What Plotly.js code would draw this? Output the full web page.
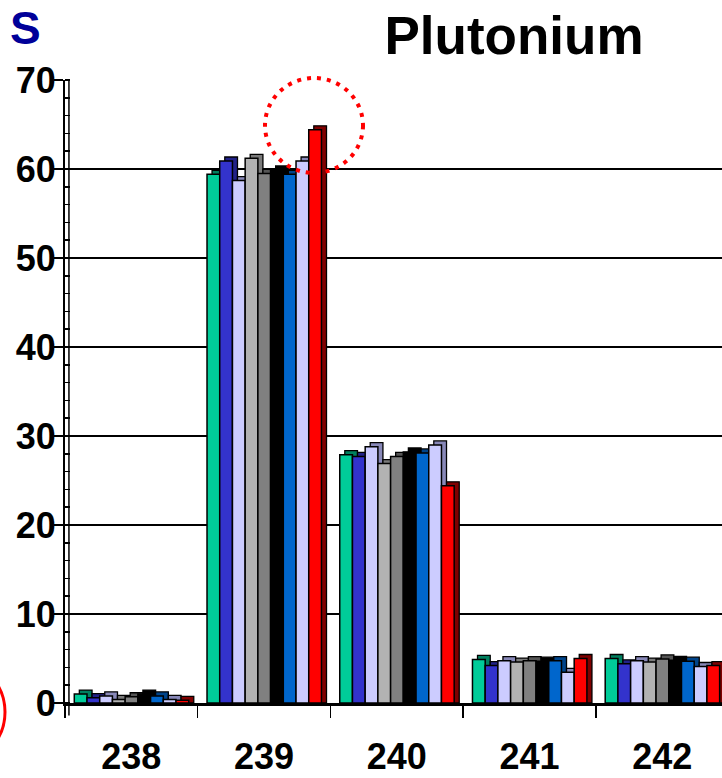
<!DOCTYPE html>
<html>
<head>
<meta charset="utf-8">
<script src="https://cdn.plot.ly/plotly-3.0.1.min.js"></script>
<style>html,body{margin:0;padding:0;background:#fff;}#chart{width:722px;height:778px;}</style>
</head>
<body>
<div id="chart"></div>
<script>
// Isotope categories
const categories = ['238', '239', '240', '241', '242'];

// Series values (percent)
const series1 = [1.0, 59.4, 27.9, 4.9, 5.0];   // green
const series2 = [0.6, 60.9, 27.7, 4.2, 4.4];   // blue
const series3 = [0.8, 58.7, 28.8, 4.75, 4.75]; // lavender
const series4 = [0.4, 61.2, 26.9, 4.6, 4.6];   // light gray
const series5 = [0.7, 59.5, 27.7, 4.75, 4.95]; // gray
const series6 = [1.0, 59.9, 28.2, 4.7, 4.8];   // black
const series7 = [0.8, 59.4, 28.1, 4.75, 4.7];  // mid blue
const series8 = [0.4, 60.9, 29.0, 3.45, 4.1];  // lavender
const series9 = [0.3, 64.4, 24.4, 5.0, 4.2];   // red

const seriesList = [series1, series2, series3, series4, series5, series6, series7, series8, series9];
const frontColors = ['#00CC99', '#3333CC', '#CCCCFF', '#B2B2B2', '#808080', '#000000', '#0066CC', '#CCCCFF', '#FF0000'];
const sideColors  = ['#00805F', '#222288', '#8888B8', '#7A7A7A', '#555555', '#000000', '#00448A', '#8888B8', '#800000'];

const BAR_W = 0.0958;
const GROUP_START = -0.43;
const DEPTH_X = 0.038;
const DEPTH_Y = 0.45;

const traces = [];
seriesList.forEach((vals, i) => {
  const off = GROUP_START + i * BAR_W;
  traces.push({
    type: 'bar', x: categories, y: vals.map(v => v + DEPTH_Y),
    offset: off + DEPTH_X, width: BAR_W,
    marker: {color: sideColors[i], line: {color: '#000', width: 1.3}},
    hoverinfo: 'skip', showlegend: false
  });
  traces.push({
    type: 'bar', x: categories, y: vals, name: 'Série ' + (i + 1),
    offset: off, width: BAR_W,
    marker: {color: frontColors[i], line: {color: '#000', width: 1.5}},
    showlegend: false
  });
});

const tickFont = {family: 'Liberation Sans, Arial, sans-serif', size: 36, color: '#000', weight: 'bold'};

const layout = {
  width: 722, height: 778,
  margin: {l: 65, r: 0, t: 80, b: 75},
  paper_bgcolor: '#fff', plot_bgcolor: '#fff',
  barmode: 'overlay',
  showlegend: false,
  title: {
    text: 'Plutonium',
    x: 0.712, xanchor: 'center', xref: 'container',
    y: 0.955, yanchor: 'middle', yref: 'container',
    font: {family: 'Liberation Sans, Arial, sans-serif', size: 53, color: '#000', weight: 'bold'}
  },
  xaxis: {
    type: 'category', categoryorder: 'array', categoryarray: categories,
    range: [-0.5, 4.45],
    tickson: 'boundaries', ticks: 'outside', ticklen: 12, tickwidth: 1.5, tickcolor: '#000',
    showline: true, linewidth: 2.5, linecolor: '#000',
    showgrid: false, zeroline: false,
    tickfont: tickFont, ticklabelstandoff: 20
  },
  yaxis: {
    range: [0, 70], dtick: 10, tick0: 0,
    ticks: 'outside', ticklen: 9, tickwidth: 1.5, tickcolor: '#000',
    minor: {dtick: 2, ticks: 'inside', ticklen: 5, tickwidth: 1.5, tickcolor: '#000', showgrid: false},
    showline: true, linewidth: 2, linecolor: '#000',
    showgrid: true, gridcolor: '#000', gridwidth: 2,
    zeroline: false,
    tickfont: tickFont, ticklabelstandoff: -9
  },
  shapes: [
    {type: 'line', xref: 'paper', yref: 'paper', x0: 0.006, x1: 0.006, y0: -0.02, y1: 1,
     line: {color: '#000', width: 1.5}},
    {type: 'circle', xref: 'paper', yref: 'paper',
     x0: (265 - 65) / 657, x1: (363 - 65) / 657, y0: (703 - 173) / 623, y1: (703 - 78) / 623,
     line: {color: '#FF0000', width: 4, dash: '4px,6px'}},
    {type: 'circle', xref: 'paper', yref: 'paper',
     x0: (-101 - 65) / 657, x1: (5 - 65) / 657, y0: (703 - 765) / 623, y1: (703 - 659) / 623,
     line: {color: '#FF0000', width: 3}}
  ],
  annotations: [
    {text: 'S', xref: 'paper', yref: 'paper', x: (25 - 65) / 657, y: (703 - 0) / 623,
     xanchor: 'center', yanchor: 'top', showarrow: false,
     font: {family: 'Liberation Sans, Arial, sans-serif', size: 46, color: '#000099', weight: 'bold'}}
  ]
};

Plotly.newPlot('chart', traces, layout, {displayModeBar: false, staticPlot: true});
</script>
</body>
</html>
